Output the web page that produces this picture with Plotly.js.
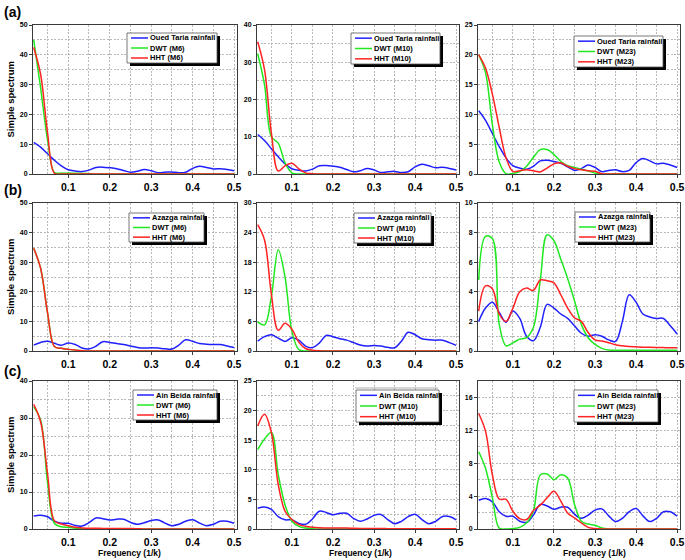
<!DOCTYPE html>
<html><head><meta charset="utf-8">
<script src="https://cdn.plot.ly/plotly-3.0.1.min.js"></script>
<style>html,body{margin:0;padding:0;background:#fff}#chart{width:685px;height:560px}</style>
</head><body><div id="chart"></div>
<script>
// ---------- DATA ----------
const freq = [0.0167,0.0333,0.05,0.0667,0.0833,0.1,0.1167,0.1333,0.15,0.1667,
              0.1833,0.2,0.2167,0.2333,0.25,0.2667,0.2833,0.3,0.3167,0.3333,
              0.35,0.3667,0.3833,0.4,0.4167,0.4333,0.45,0.4667,0.4833,0.5];

const ouedTaria = [10.6,9.0,6.8,4.6,2.7,1.4,1.0,0.8,1.3,2.2,
                   2.3,2.1,1.8,1.2,0.6,0.9,1.5,1.1,0.4,0.6,
                   0.7,0.4,0.6,1.9,2.6,2.2,1.7,1.8,1.5,1.1];
const azazga = [2.0,2.9,3.3,2.6,1.95,2.7,2.2,1.0,0.7,1.6,
                3.15,2.9,2.5,2.2,1.7,1.2,1.0,1.1,1.0,0.75,
                0.65,2.0,3.8,3.3,2.5,2.3,2.2,2.2,1.7,1.15];
const ainBeida = [3.5,3.7,3.3,2.1,1.55,1.55,0.95,0.8,1.7,3.0,
                  2.8,2.4,2.65,2.65,1.8,1.3,1.7,2.3,2.45,1.6,
                  0.9,1.3,2.1,2.5,1.6,0.9,1.3,2.1,2.1,1.55];

const dwtOT6 = [45,29,11.5,0.5,0.3,0.3,0.25,0.2,0.1,0,
                0,0,0,0,0,0,0,0,0,0,
                0,0,0,0,0,0,0,0,0,0];
const hhtOT6 = [42.5,33.5,14,0.2,0,0,0,0,0,0,
                0,0,0,0,0,0,0,0,0,0,
                0,0,0,0,0,0,0,0,0,0];
const dwtOT10 = [32.3,24,10,8.3,3.0,0.3,0,0,0,0,
                 0,0,0,0,0,0,0,0,0,0,
                 0,0,0,0,0,0,0,0,0,0];
const hhtOT10 = [35.5,28,11,0.8,2.2,2.9,1.4,0.3,0.1,0,
                 0,0,0,0,0,0,0,0,0,0,
                 0,0,0,0,0,0,0,0,0,0];
const dwtOT23 = [20,17,8.3,2.0,0.05,0.1,0.4,1.3,2.8,4.1,
                 4.1,3.3,2.1,1.4,1.1,0.8,0.5,0.15,0,0,
                 0,0,0,0,0,0,0,0,0,0];
const hhtOT23 = [20,17.8,13.4,7.8,2.7,0.45,0.55,0.7,0.55,0.35,
                 1.0,1.7,1.85,1.3,0.9,0.7,0.55,0.45,0.05,0,
                 0,0,0,0,0,0,0,0,0,0];

const dwtAZ6 = [34.7,28,13,1.5,0.9,0.55,0.3,0.1,0,0,
                0,0,0,0,0,0,0,0,0,0,
                0,0,0,0,0,0,0,0,0,0];
const hhtAZ6 = [34.7,28,13,1.5,0.9,0.55,0.3,0.1,0,0,
                0,0,0,0,0,0,0,0,0,0,
                0,0,0,0,0,0,0,0,0,0];
const dwtAZ10 = [5.9,5.3,11,20.5,15,4,0.3,0,0,0,
                 0,0,0,0,0,0,0,0,0,0,
                 0,0,0,0,0,0,0,0,0,0];
const hhtAZ10 = [25.6,22.5,11.5,4.2,5.6,4.4,1.8,0.5,0.15,0.05,
                 0,0,0,0,0,0,0,0,0,0,
                 0,0,0,0,0,0,0,0,0,0];
const dwtAZ23 = [4.8,7.75,7.6,1.8,0.35,0.55,0.8,0.9,1.6,4.8,
                 7.85,7.45,6.2,4.9,3.4,1.8,0.9,0.45,0.18,0.07,
                 0.05,0.05,0.05,0.05,0.05,0.05,0.05,0.05,0.05,0.05];
const hhtAZ23 = [2.7,4.4,4.2,2.5,2.0,2.9,4.0,4.25,4.1,4.8,
                 4.75,4.6,3.8,2.9,2.25,2.0,1.25,0.75,0.67,0.56,
                 0.42,0.35,0.3,0.28,0.26,0.25,0.24,0.23,0.22,0.22];

const dwtAB6 = [33,29.5,12.6,1.5,0.6,0.45,0.2,0.1,0.05,0,
                0,0,0,0,0,0,0,0,0,0,
                0,0,0,0,0,0,0,0,0,0];
const hhtAB6 = [33.7,29,15,2.2,1.35,0.9,0.45,0.3,0.2,0.2,
                0.15,0.15,0.15,0.15,0.15,0.1,0,0,0,0,
                0,0,0,0,0,0,0,0,0,0];
const dwtAB10 = [13.4,15.2,16.3,9.2,4.1,1.3,0.45,0.15,0.05,0,
                 0,0,0,0,0,0,0,0,0,0,
                 0,0,0,0,0,0,0,0,0,0];
const hhtAB10 = [17.4,19.4,16.3,7.5,3.0,1.6,0.75,0.45,0.3,0.22,
                 0.18,0.15,0.15,0.15,0.12,0.1,0.1,0.08,0.08,0.06,
                 0.05,0.05,0.05,0.05,0.05,0.05,0.05,0.05,0.05,0.05];
const dwtAB23 = [9.4,7.4,3.8,0.1,0,0.05,0.2,0.75,2.2,6.6,
                 6.7,6.0,6.6,6.2,3.0,0.95,0.6,0.45,0.12,0,
                 0,0,0,0,0,0,0,0,0,0];
const hhtAB23 = [14.05,11.9,6.6,3.65,3.6,2.15,1.26,1.15,2.25,2.9,
                 3.8,4.6,3.4,1.95,1.35,0.73,0.2,0.05,0,0,
                 0,0,0,0,0,0,0,0,0,0];

const stations = ['Oued Taria rainfall','Azazga rainfall','Ain Beida rainfall'];
const models = ['M6','M10','M23'];
const rowLabels = ['(a)','(b)','(c)'];
const yMax = [50,40,25, 50,30,10, 40,25,18];
const yStep = [10,10,5, 10,6,2, 10,5,4];

const blueSeries = [ouedTaria, azazga, ainBeida];
const dwtSeries = [[dwtOT6,dwtOT10,dwtOT23],[dwtAZ6,dwtAZ10,dwtAZ23],[dwtAB6,dwtAB10,dwtAB23]];
const hhtSeries = [[hhtOT6,hhtOT10,hhtOT23],[hhtAZ6,hhtAZ10,hhtAZ23],[hhtAB6,hhtAB10,hhtAB23]];

// ---------- LAYOUT GEOMETRY (pixels) ----------
const W = 685, H = 560;
const colPx = [[33,237],[257,459],[478,680]];
const rowPx = [[25,174],[203,351],[381,529]];
const legendBox = [[127,33,217,63],[351,33,440,64],[574,36,663,67],
                   [129,213,204,242],[354,213,431,243],[575,212,650,242],
                   [133,390,217,420],[356,390,439,422],[574,390,658,422]];
const xTitleX = [129,360,594];
const FONT = 'Arial, "Liberation Sans", sans-serif';
const BLUE = '#2020ff', GREEN = '#22e822', RED = '#ff2222';
const GRID = '#a8a8a8', AXC = '#3a3a3a', DASH = '2px,1.5px';

const px = v => v / W;
const py = v => 1 - v / H;

const traces = [];
const layout = {
  width: W, height: H, margin: {l:0, r:0, t:0, b:0},
  showlegend: false, paper_bgcolor: '#fff', plot_bgcolor: '#fff',
  font: {family: FONT, color: '#000'},
  shapes: [], annotations: []
};

for (let r = 0; r < 3; r++) {
  for (let c = 0; c < 3; c++) {
    const i = r * 3 + c, n = i + 1, sfx = n === 1 ? '' : String(n);
    const xa = 'x' + sfx, ya = 'y' + sfx;
    const line = (col) => ({color: col, width: 1.5, shape: 'spline', smoothing: 1});
    traces.push({x: freq, y: blueSeries[r], xaxis: xa, yaxis: ya, mode: 'lines', line: line(BLUE), name: stations[r]});
    traces.push({x: freq, y: dwtSeries[r][c], xaxis: xa, yaxis: ya, mode: 'lines', line: line(GREEN), name: 'DWT (' + models[c] + ')'});
    traces.push({x: freq, y: hhtSeries[r][c], xaxis: xa, yaxis: ya, mode: 'lines', line: line(RED), name: 'HHT (' + models[c] + ')'});

    layout['xaxis' + sfx] = {
      domain: [px(colPx[c][0]), px(colPx[c][1])], anchor: ya,
      range: [0.015, 0.507], tickmode: 'linear', tick0: 0, dtick: 0.1, tickformat: '.1f',
      showline: true, mirror: true, linecolor: AXC, linewidth: 1,
      ticks: 'outside', ticklen: 3, tickcolor: AXC, zeroline: false,
      showgrid: true, gridcolor: GRID, griddash: DASH, gridwidth: 0.8,
      minor: {dtick: 0.05, showgrid: true, gridcolor: GRID, griddash: DASH, gridwidth: 0.8},
      tickfont: {family: FONT, size: 10.5, color: '#000', weight: 'bold'}
    };
    layout['yaxis' + sfx] = {
      domain: [py(rowPx[r][1]), py(rowPx[r][0])], anchor: xa,
      range: [0, yMax[i]], tickmode: 'linear', tick0: 0, dtick: yStep[i],
      showline: true, mirror: true, linecolor: AXC, linewidth: 1,
      ticks: 'outside', ticklen: 3, tickcolor: AXC, zeroline: false,
      showgrid: true, gridcolor: GRID, griddash: DASH, gridwidth: 0.8,
      minor: {dtick: yStep[i] / 2, showgrid: true, gridcolor: GRID, griddash: DASH, gridwidth: 0.8},
      tickfont: {family: FONT, size: 7, color: '#000', weight: 'bold'}
    };

    // custom legend box with drop shadow
    const [x0, y0, x1, y1] = legendBox[i];
    layout.shapes.push({type: 'rect', xref: 'paper', yref: 'paper', x0: px(x0 + 3), x1: px(x1 + 3), y0: py(y0 + 3), y1: py(y1 + 3), fillcolor: '#000', line: {width: 0}});
    layout.shapes.push({type: 'rect', xref: 'paper', yref: 'paper', x0: px(x0), x1: px(x1), y0: py(y0), y1: py(y1), fillcolor: '#fff', line: {color: '#555', width: 0.8}});
    const names = [stations[r], 'DWT (' + models[c] + ')', 'HHT (' + models[c] + ')'];
    const cols = [BLUE, GREEN, RED];
    for (let k = 0; k < 3; k++) {
      const yy = y0 + (y1 - y0) * (2 * k + 1) / 6;
      layout.shapes.push({type: 'line', xref: 'paper', yref: 'paper', x0: px(x0 + 4), x1: px(x0 + 21), y0: py(yy), y1: py(yy), line: {color: cols[k], width: 1.5}});
      layout.annotations.push({xref: 'paper', yref: 'paper', x: px(x0 + 22), y: py(yy), xanchor: 'left', yanchor: 'middle', showarrow: false, borderpad: 0,
        text: '<b>' + names[k] + '</b>', font: {family: FONT, size: 7.5, color: '#000'}});
    }
  }
  // row label and y-axis title
  layout.annotations.push({xref: 'paper', yref: 'paper', x: px(2), y: py([12, 190, 371][r]), xanchor: 'left', yanchor: 'middle', showarrow: false,
    text: '<b>' + rowLabels[r] + '</b>', font: {family: FONT, size: 14, color: '#000'}});
  layout.annotations.push({xref: 'paper', yref: 'paper', x: px(10), y: py((rowPx[r][0] + rowPx[r][1]) / 2), xanchor: 'center', yanchor: 'middle', showarrow: false, textangle: -90,
    text: '<b>Simple spectrum</b>', font: {family: FONT, size: 9.5, color: '#000'}});
}
// x-axis titles on bottom row
for (let c = 0; c < 3; c++) {
  layout.annotations.push({xref: 'paper', yref: 'paper', x: px(xTitleX[c]), y: py(553), xanchor: 'center', yanchor: 'middle', showarrow: false,
    text: '<b>Frequency (1/k)</b>', font: {family: FONT, size: 8.5, color: '#000'}});
}
// faint line above the legend of panel (c) middle
layout.shapes.push({type: 'line', xref: 'paper', yref: 'paper', x0: px(355), x1: px(438), y0: py(388), y1: py(388), line: {color: '#999', width: 0.8}});

Plotly.newPlot('chart', traces, layout, {staticPlot: true, displayModeBar: false});
</script></body></html>
